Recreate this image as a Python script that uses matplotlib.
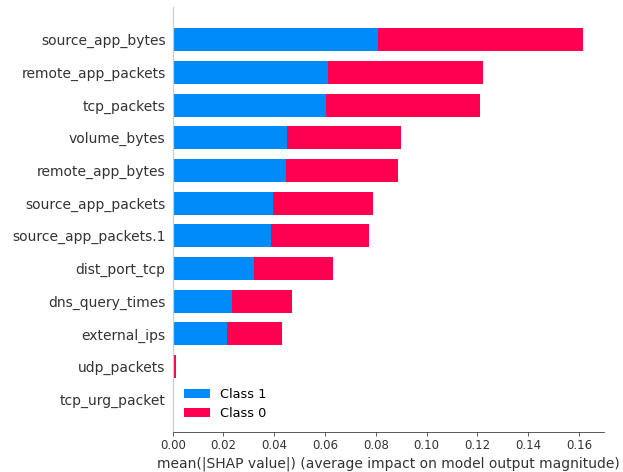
import numpy as np
import matplotlib.pyplot as plt

features = ['source_app_bytes', 'remote_app_packets', 'tcp_packets', 'volume_bytes',
            'remote_app_bytes', 'source_app_packets', 'source_app_packets.1',
            'dist_port_tcp', 'dns_query_times', 'external_ips', 'udp_packets',
            'tcp_urg_packet']
class1 = [0.0808, 0.0610, 0.0605, 0.0449, 0.0446, 0.0395, 0.0387, 0.0320, 0.0234, 0.0214, 0.0004, 0.0]
class0 = [0.0809, 0.0613, 0.0606, 0.0449, 0.0441, 0.0394, 0.0386, 0.0311, 0.0236, 0.0215, 0.0010, 0.0]
class_names = ['Class 1', 'Class 0']
colors = ['#008bfb', '#ff0051']
axis_color = '#333333'

# text in the reference renders a bit larger than the stock shap sizes at 72 dpi
s = 1.07

fig = plt.figure(figsize=(623 / 72, 472 / 72), dpi=72)
ax = fig.add_axes([0.2772, 0.0847, 0.6928, 0.9005])

n = len(features)
y_pos = np.arange(n)[::-1]
left = np.zeros(n)
for vals, name, c in zip([class1, class0], class_names, colors):
    vals = np.array(vals)
    ax.barh(y_pos, vals, 0.7, left=left, align='center', color=c, label=name)
    left += vals

ax.set_yticks(y_pos)
ax.set_yticklabels(features, fontsize=13 * s)
ax.set_ylim(-1, n)
ax.set_xlim(0, 0.17)
ax.xaxis.set_ticks_position('bottom')
ax.yaxis.set_ticks_position('none')
ax.spines['right'].set_visible(False)
ax.spines['top'].set_visible(False)
ax.spines['left'].set_color('#cccccc')
ax.spines['left'].set_linewidth(1.2)
ax.spines['bottom'].set_color(axis_color)
ax.tick_params(color=axis_color, labelcolor=axis_color)
ax.tick_params('x', labelsize=11 * s)
ax.set_xlabel('mean(|SHAP value|) (average impact on model output magnitude)',
              fontsize=13 * s, color=axis_color)
ax.legend(frameon=False, fontsize=12 * s, loc='lower left', bbox_to_anchor=(0.0, 0.0))

fig.savefig('out.png', dpi=72)
